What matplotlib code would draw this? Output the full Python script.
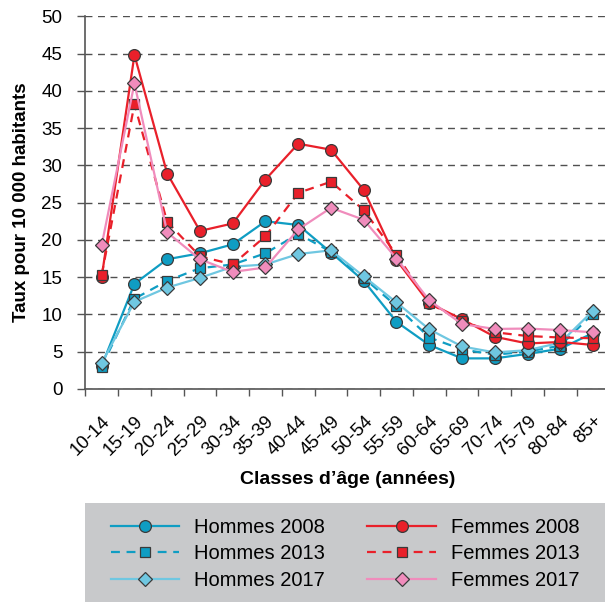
import numpy as np
import matplotlib
matplotlib.use('Agg')
import matplotlib.pyplot as plt
from matplotlib.patches import Rectangle

plt.rcParams['font.family'] = ['Liberation Sans', 'DejaVu Sans']

ages = ['10-14', '15-19', '20-24', '25-29', '30-34', '35-39', '40-44', '45-49',
        '50-54', '55-59', '60-64', '65-69', '70-74', '75-79', '80-84', '85+']

hommes_2008 = [3.1, 14.1, 17.4, 18.2, 19.4, 22.5, 22.0, 18.3, 14.5, 9.0, 5.9, 4.1, 4.1, 4.7, 5.4, 7.5]
hommes_2013 = [3.0, 12.1, 14.5, 16.2, 16.7, 18.2, 20.8, 18.4, 14.9, 11.1, 6.9, 5.3, 4.6, 5.0, 5.8, 10.1]
hommes_2017 = [3.45, 11.7, 13.6, 14.9, 16.4, 16.7, 18.1, 18.6, 15.1, 11.6, 8.0, 5.7, 4.9, 5.2, 6.2, 10.5]
femmes_2008 = [15.0, 44.8, 28.9, 21.2, 22.2, 28.1, 32.9, 32.1, 26.7, 17.3, 11.5, 9.35, 7.0, 6.1, 6.3, 5.9]
femmes_2013 = [15.3, 38.2, 22.4, 17.8, 16.7, 20.5, 26.3, 27.8, 24.0, 18.0, 11.5, 9.1, 7.6, 7.1, 6.9, 6.8]
femmes_2017 = [19.3, 41.0, 21.0, 17.4, 15.7, 16.3, 21.4, 24.3, 22.7, 17.5, 11.9, 8.7, 8.05, 8.1, 7.9, 7.6]

fig = plt.figure(figsize=(6.05, 6.03), dpi=100)
ax = fig.add_axes([0.141, 0.355, 0.8663, 0.618])

x = np.arange(len(ages))
bleu = '#0f9dc3'
bleu_clair = '#6fc7e1'
rouge = '#e9202a'
rose = '#f08cbc'
edge = '#3a3a3a'

ax.plot(x, hommes_2008, color=bleu, lw=1.6, marker='o', ms=8.5, mfc=bleu, mec=edge, mew=0.9, label='Hommes 2008')
ax.plot(x, hommes_2013, color=bleu, lw=1.6, ls=(0, (4, 3)), marker='s', ms=7, mfc=bleu, mec=edge, mew=0.9, label='Hommes 2013')
ax.plot(x, hommes_2017, color=bleu_clair, lw=1.6, marker='D', ms=7, mfc=bleu_clair, mec=edge, mew=0.9, label='Hommes 2017')
ax.plot(x, femmes_2008, color=rouge, lw=1.6, marker='o', ms=8.5, mfc=rouge, mec=edge, mew=0.9, label='Femmes 2008')
ax.plot(x, femmes_2013, color=rouge, lw=1.6, ls=(0, (4, 3)), marker='s', ms=7, mfc=rouge, mec=edge, mew=0.9, label='Femmes 2013')
ax.plot(x, femmes_2017, color=rose, lw=1.6, marker='D', ms=7, mfc=rose, mec=edge, mew=0.9, label='Femmes 2017')

ax.set_xlim(-0.5, len(ages) - 0.5)
ax.set_ylim(0, 50)
ax.set_yticks(np.arange(0, 51, 5))
ax.yaxis.grid(True, color='#505050', ls=(0, (5, 4)), lw=1.0)
ax.set_axisbelow(True)

ax.set_xticks(x)
ax.set_xticklabels(ages, rotation=45, ha='right', rotation_mode='anchor', fontsize=13.5)
ax.set_xticks(np.arange(-0.5, len(ages)), minor=True)
ax.tick_params(axis='x', which='major', length=0, pad=17)
ax.tick_params(axis='x', which='minor', length=5, width=1, color='#555555', direction='out')
ax.tick_params(axis='y', length=5.5, width=1, color='#555555', labelsize=13.5, pad=11)

for s in ['top', 'right']:
    ax.spines[s].set_visible(False)
for s in ['left', 'bottom']:
    ax.spines[s].set_color('#555555')
    ax.spines[s].set_linewidth(1.2)

ax.set_ylabel('Taux pour 10 000 habitants', fontsize=13.5, fontweight='bold', labelpad=8)
ax.set_xlabel('Classes d\u2019âge (années)', fontsize=14, fontweight='bold', labelpad=9)

# legend box
fig.patches.append(Rectangle((85 / 605, 0.0017), 1.0, 0.164, transform=fig.transFigure,
                             facecolor='#c8c9cb', edgecolor='none', zorder=0))
fig.legend(loc='center', bbox_to_anchor=(345 / 605, 0.0813), ncol=2, frameon=False,
           fontsize=14.5, handlelength=3.4, handletextpad=0.75, columnspacing=2.1,
           labelspacing=0.38, borderpad=0)

fig.savefig('out.png', dpi=100)
